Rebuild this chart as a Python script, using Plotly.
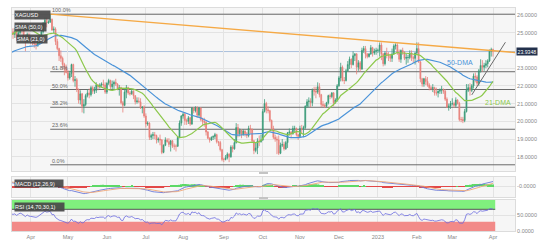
import pandas as pd
import plotly.graph_objects as go

# ---------------- data ----------------
warmup_close = [22.76,23.05,22.70,22.15,22.40, 22.40,22.85,23.20,22.90,22.92,
                23.10,23.50,24.20,24.40,24.35, 23.90,23.95,23.40,22.85,22.35,
                22.45,22.55,22.65,22.35,22.45, 22.70,22.55,23.10,22.90,23.45,
                23.70,23.30,23.65,23.90,23.90, 23.95,23.90,24.50,24.10,23.95,
                24.35,25.30,25.15,25.20,25.80, 25.75,26.20,25.75,25.90,25.75]

close = [
25.00,24.95,25.20,25.05,24.90, 25.05,24.70,25.00,25.30,25.15,
24.80,24.50,24.90,24.60,24.55, 24.45,24.35,24.30,24.45,24.70,
25.05,25.50,25.70,25.55,25.60, 25.75,25.15,25.20,24.50,24.10,
23.70,23.55,23.20,23.05,22.75, 22.45,22.70,23.20,22.30,22.35,
21.80,21.20,21.55,20.85,20.95, 21.45,21.60,21.50,21.90,21.70,
21.75,22.05,21.95,22.05,22.10, 22.05,21.65,22.15,22.30,21.95,
22.10,22.20,22.10,21.85,21.90, 21.05,20.90,21.65,21.90,21.60,
21.55,21.70,21.45,21.10,21.15, 21.10,20.75,20.80,20.30,19.85,
19.90,19.10,19.20,19.25,19.20, 18.95,19.00,18.95,18.25,18.65,
18.95,18.85,18.70,18.90,18.60, 18.60,18.60,19.10,19.90,20.30,
20.40,20.05,20.00,20.20,19.85, 20.75,20.60,20.75,20.35,20.75,
20.10,20.00,19.95,19.40,19.05, 18.95,19.10,19.15,19.25,18.85,
18.80,18.40,17.85,17.85,17.95, 18.15,18.00,18.55,18.45,18.80,
19.65,19.30,19.50,19.25,19.45, 19.30,19.20,19.60,19.55,18.90,
18.35,18.50,18.90,18.85,18.95, 20.55,21.00,20.65,20.60,20.05,
19.60,19.10,19.00,18.95,18.20, 18.65,18.70,18.45,18.80,19.35,
19.40,19.30,19.60,19.60,19.25, 19.15,19.60,19.55,19.65,20.85,
21.10,21.15,21.05,21.75,21.70, 21.65,21.95,21.50,20.95,20.90,
20.85,21.05,21.45,21.40,21.60, 21.05,21.20,22.00,22.45,23.05,
22.30,22.30,22.85,23.20,23.50, 23.20,23.70,23.80,23.05,23.30,
22.95,24.00,24.10,23.80,23.65, 23.80,24.15,23.85,23.95,24.00,
24.00,24.30,23.80,23.25,23.85, 23.75,23.70,23.55,23.80,24.25,
24.30,23.85,23.50,24.00,23.90, 23.55,23.60,23.60,23.85,23.60,
23.55,23.85,24.10,23.35,22.40, 22.10,22.40,22.25,22.05,21.90,
21.85,21.90,21.60,21.60,21.70, 21.75,21.80,21.70,21.25,20.80,
20.85,21.00,21.00,20.90,21.20, 21.00,20.10,20.10,20.05,20.55,
21.75,21.90,21.75,22.00,22.55, 22.50,22.15,22.85,23.15,23.05,
23.15,23.25,23.40,23.95,24.05, 23.9348]

high = [
25.80,25.35,25.45,25.45,25.25, 25.25,25.10,25.15,25.45,25.40,
25.25,24.90,25.00,25.00,24.80, 24.70,24.65,24.45,24.60,24.85,
25.20,25.60,25.85,25.85,25.70, 26.05,25.80,25.35,25.30,24.65,
24.15,24.00,23.65,23.30,23.20, 22.90,22.85,23.25,23.25,22.55,
22.45,21.85,21.75,21.60,21.25, 21.55,21.80,21.85,22.00,22.00,
21.95,22.20,22.10,22.15,22.20, 22.35,22.20,22.20,22.40,22.35,
22.30,22.30,22.40,22.15,22.05, 21.95,21.15,21.80,22.05,21.95,
21.70,21.85,21.75,21.45,21.35, 21.35,21.30,20.85,20.90,20.45,
20.00,19.95,19.30,19.40,19.40, 19.25,19.10,19.25,19.00,18.70,
19.10,19.05,19.05,18.95,18.95, 18.75,18.70,19.15,20.05,20.35,
20.50,20.50,20.15,20.30,20.25, 20.80,20.80,20.85,20.85,20.80,
20.80,20.20,20.20,20.00,19.45, 19.10,19.15,19.20,19.35,19.30,
18.90,18.90,18.45,17.95,18.10, 18.25,18.20,18.65,18.65,19.00,
19.90,19.85,19.60,19.55,19.55, 19.50,19.40,19.75,19.80,19.60,
18.95,18.80,19.05,19.20,19.25, 20.70,21.25,21.10,20.85,20.65,
20.10,19.75,19.25,19.15,19.20, 18.80,19.00,18.85,18.90,19.40,
19.60,19.45,19.75,19.75,19.65, 19.30,19.75,19.80,19.75,20.90,
21.25,21.35,21.30,21.85,21.95, 21.95,22.20,22.15,21.55,21.15,
21.00,21.10,21.50,21.55,21.65, 21.65,21.30,22.10,22.55,23.30,
23.15,22.50,22.95,23.40,23.65, 23.55,23.95,23.85,23.85,23.45,
23.40,24.15,24.25,24.25,23.85, 23.85,24.30,24.20,24.10,24.15,
24.10,24.45,24.45,23.85,23.95, 24.15,23.90,23.80,24.10,24.35,
24.40,24.40,24.05,24.05,24.15, 23.95,23.80,23.75,24.00,24.00,
23.70,23.90,24.45,24.45,23.40, 22.45,22.45,22.55,22.50,22.15,
22.00,22.10,21.95,21.90,21.75, 21.85,22.00,21.85,21.80,21.35,
21.00,21.15,21.30,21.10,21.35, 21.25,21.10,20.25,20.25,20.70,
22.10,22.10,22.15,22.10,22.70, 22.75,22.60,22.95,23.50,23.45,
23.30,23.45,23.50,24.05,24.15, 24.10]

low = [
24.75,24.65,24.70,24.90,24.65, 24.70,24.55,24.60,24.90,24.95,
24.60,23.95,24.45,24.50,24.35, 24.30,24.15,24.05,24.20,24.35,
24.70,24.95,25.40,25.30,25.50, 25.55,25.10,24.95,24.30,24.00,
23.40,23.35,22.90,22.60,22.70, 22.30,22.35,22.50,22.20,21.95,
21.65,21.00,20.95,20.50,20.45, 20.85,21.35,21.30,21.40,21.55,
21.55,21.60,21.75,21.85,21.90, 21.90,21.55,21.55,22.05,21.80,
21.80,21.80,22.00,21.75,21.45, 20.95,20.50,20.85,21.30,21.50,
21.45,21.50,21.25,20.95,21.00, 21.05,20.70,20.45,20.20,19.65,
19.75,18.95,18.95,19.00,19.00, 18.75,18.80,18.65,18.15,18.20,
18.60,18.80,18.55,18.30,18.50, 18.40,18.30,18.55,19.05,19.75,
20.15,19.80,19.80,19.85,19.75, 19.80,20.45,20.50,20.20,20.25,
20.00,19.80,19.70,19.20,19.00, 18.80,18.90,18.95,19.00,18.75,
18.60,18.30,17.75,17.70,17.80, 17.85,17.70,17.95,18.25,18.40,
18.75,19.10,19.15,19.05,19.20, 19.15,19.05,19.10,19.30,18.80,
18.15,18.25,18.15,18.60,18.80, 18.90,20.50,20.45,20.45,19.95,
19.50,19.00,18.85,18.15,18.10, 18.15,18.55,18.35,18.40,18.50,
19.20,19.05,19.25,19.40,19.15, 18.95,19.10,19.30,19.10,19.55,
20.75,20.80,20.80,20.85,21.45, 21.30,21.55,21.35,20.80,20.80,
20.75,20.80,20.95,21.25,21.30, 20.85,21.00,21.10,21.95,22.25,
22.25,22.10,22.25,22.80,22.95, 23.00,23.15,23.40,22.65,22.85,
22.80,22.90,23.85,23.55,23.55, 23.60,23.75,23.65,23.75,23.75,
23.85,23.65,23.45,23.10,23.15, 23.55,23.40,23.35,23.35,23.75,
24.05,23.75,23.35,23.30,23.75, 23.45,23.20,23.30,23.50,23.40,
23.30,23.20,23.75,23.30,22.20, 21.95,21.95,22.05,21.95,21.75,
21.75,21.65,21.45,21.45,21.35, 21.55,21.55,21.55,21.15,20.75,
20.60,20.70,20.90,20.75,20.80, 20.95,20.00,19.95,19.90,19.95,
20.50,21.65,21.45,21.65,21.85, 22.20,22.00,22.00,22.75,22.80,
22.85,23.00,23.05,23.35,23.65, 23.65]

tick_dates = ["2022-04-01","2022-05-02","2022-06-01","2022-07-01","2022-08-01","2022-09-01",
              "2022-10-03","2022-11-01","2022-12-01","2023-01-02","2023-02-01","2023-03-01","2023-04-03"]
tick_text = ["Apr","May","Jun","Jul","Aug","Sep","Oct","Nov","Dec","2023","Feb","Mar","Apr"]
price_ticks = [18, 19, 20, 21, 22, 23, 25, 26]   # 24.0000 sits behind the price tag

fib_high, fib_low = 26.04, 17.55
fib_start = "2022-04-18"
fib_pcts = [100.0, 61.8, 50.0, 38.2, 23.6, 0.0]
res_x = ["2022-04-18", "2023-04-19 10:00"]
res_y = [26.04, 23.88]
sup_x = ["2023-03-16", "2023-04-12"]
sup_y = [21.49, 24.46]
last_price = 23.9348
x_range = ["2022-03-17 10:00", "2023-04-19 10:00"]

# ---------------- geometry helpers ----------------
W, H = 538, 245
ML, MR, MT, MB = 12, 23, 8, 14
PW, PH = W - ML - MR, H - MT - MB
def fx(px): return (px - ML) / PW
def fy(py): return (H - MB - py) / PH

# ---------------- indicators ----------------
warm_idx = pd.bdate_range("2022-01-03", periods=len(warmup_close))
dates = pd.bdate_range("2022-03-14", periods=len(close))
allc = pd.Series(warmup_close + close, index=warm_idx.append(dates))
opens = [warmup_close[-1]] + close[:-1]
sma50 = allc.rolling(50).mean().loc[dates]
sma21 = allc.rolling(21).mean().loc[dates]
macd = allc.ewm(span=12, adjust=False).mean() - allc.ewm(span=26, adjust=False).mean()
sig = macd.ewm(span=9, adjust=False).mean()
hist = (macd - sig).loc[dates]
macd, sig = macd.loc[dates], sig.loc[dates]
d = allc.diff()
g = d.clip(lower=0).ewm(alpha=1/14, adjust=False).mean()
l = (-d.clip(upper=0)).ewm(alpha=1/14, adjust=False).mean()
rsi = (100 - 100 / (1 + g / l)).loc[dates]

UP, DN = "#3a9a78", "#e8807a"
BLUE, GREEN, ORANGE = "#4a93d9", "#8cc84b", "#f5a945"
FONT = "Liberation Sans"

fig = go.Figure()
fig.add_trace(go.Candlestick(x=dates, open=opens, high=high, low=low, close=close,
    increasing=dict(line=dict(color=UP, width=0.8), fillcolor=UP),
    decreasing=dict(line=dict(color=DN, width=0.8), fillcolor=DN),
    whiskerwidth=0, showlegend=False, hoverinfo="skip", xaxis="x", yaxis="y"))
fig.add_trace(go.Scatter(x=dates, y=sma50, mode="lines", line=dict(color=BLUE, width=1.2),
                         xaxis="x", yaxis="y", showlegend=False, hoverinfo="skip"))
fig.add_trace(go.Scatter(x=dates, y=sma21, mode="lines", line=dict(color=GREEN, width=1.2),
                         xaxis="x", yaxis="y", showlegend=False, hoverinfo="skip"))
fig.add_trace(go.Scatter(x=res_x, y=res_y, mode="lines", line=dict(color=ORANGE, width=1.3),
                         xaxis="x", yaxis="y", showlegend=False, hoverinfo="skip"))
fig.add_trace(go.Scatter(x=sup_x, y=sup_y, mode="lines", line=dict(color="#6a6a6a", width=1),
                         xaxis="x", yaxis="y", showlegend=False, hoverinfo="skip"))

# MACD
fig.add_trace(go.Bar(x=dates, y=hist, marker_color=["#5cd966" if v >= 0 else "#e24848" for v in hist],
                     marker_line_width=0, xaxis="x2", yaxis="y2", showlegend=False, hoverinfo="skip"))
fig.add_trace(go.Scatter(x=dates, y=macd, mode="lines", line=dict(color="#6a78d8", width=0.9),
                         xaxis="x2", yaxis="y2", showlegend=False, hoverinfo="skip"))
fig.add_trace(go.Scatter(x=dates, y=sig, mode="lines", line=dict(color="#f0a878", width=0.9),
                         xaxis="x2", yaxis="y2", showlegend=False, hoverinfo="skip"))
# RSI
fig.add_trace(go.Scatter(x=dates, y=rsi, mode="lines", line=dict(color="#6a6ae0", width=0.8),
                         xaxis="x3", yaxis="y3", showlegend=False, hoverinfo="skip"))

shapes = []
band_end = "2023-04-04 06:00"
shapes.append(dict(type="rect", xref="x3", yref="y3", x0=x_range[0], x1=band_end, y0=70, y1=100,
                   fillcolor="#80f07e", line_width=0, layer="between"))
shapes.append(dict(type="rect", xref="x3", yref="y3", x0=x_range[0], x1=band_end, y0=0, y1=30,
                   fillcolor="#f28a88", line_width=0, layer="between"))
shapes.append(dict(type="line", xref="x3", yref="y3", x0=x_range[0], x1=band_end, y0=70, y1=70,
                   line=dict(color="#555555", width=1), layer="between"))
for p in fib_pcts:
    lv = fib_low + p / 100 * (fib_high - fib_low)
    shapes.append(dict(type="line", xref="x", yref="y", x0=fib_start, x1=x_range[1], y0=lv, y1=lv,
                       line=dict(color="#6b6b6b", width=1), layer="between"))
shapes.append(dict(type="line", xref="paper", yref="y", x0=0, x1=1, y0=last_price, y1=last_price,
                   line=dict(color="#a9bfdc", width=1), layer="between"))
for sy in (173, 198):
    shapes.append(dict(type="rect", xref="paper", yref="paper", x0=fx(259), x1=fx(268),
                       y0=fy(sy + 1), y1=fy(sy - 1), fillcolor="#c4c4c4", line_width=0))

ann = []
for p in fib_pcts:
    lv = fib_low + p / 100 * (fib_high - fib_low)
    ann.append(dict(x=fib_start, y=lv, xref="x", yref="y", text=f"{p:.1f}%", showarrow=False,
                    xanchor="left", yanchor="bottom", xshift=0, yshift=-1,
                    font=dict(size=5.5, color="#666666", family=FONT)))
def box(text, x, y, w, h):
    ann.append(dict(x=fx(x), y=fy(y), xref="paper", yref="paper", text=text, showarrow=False,
                    xanchor="left", yanchor="top", align="left", width=w, height=h,
                    bgcolor="rgba(72,72,72,0.92)", borderpad=0,
                    font=dict(size=5.5, color="white", family=FONT)))
box("XAGUSD", 14, 10, 35, 8)
box("SMA (50,0)", 14, 22, 31, 8)
box("SMA (21,0)", 16, 34, 30, 8)
box("MACD (12,26,9)", 14, 179, 48, 7)
box("RSI (14,70,30,1)", 14, 202, 49, 8)
ann.append(dict(x=fx(445), y=fy(62), xref="paper", yref="paper", text="50-DMA", showarrow=False,
                xanchor="left", yanchor="middle", font=dict(size=7, color=BLUE, family=FONT)))
ann.append(dict(x=fx(483), y=fy(102), xref="paper", yref="paper", text="21-DMA", showarrow=False,
                xanchor="left", yanchor="middle", font=dict(size=7, color=GREEN, family=FONT)))
ann.append(dict(x=fx(537.5), y=last_price, xref="paper", yref="y", text="23.9348", showarrow=False,
                xanchor="right", yanchor="middle", bgcolor="#22304c", borderpad=0.5,
                font=dict(size=5.2, color="white", family=FONT)))

grid = "#e3e3e3"
xcommon = dict(type="date", range=x_range, rangebreaks=[dict(bounds=["sat", "mon"])],
               tickmode="array", tickvals=tick_dates, ticktext=tick_text,
               showgrid=True, gridcolor=grid, gridwidth=1, zeroline=False,
               showline=True, linecolor="#dcdcdc", mirror=True, ticks="", automargin=False,
               tickfont=dict(size=5.5, color="#888888", family=FONT))
ycommon = dict(side="right", showgrid=True, gridcolor=grid, zeroline=False, ticks="",
               showline=True, linecolor="#dcdcdc", mirror=True, automargin=False,
               tickfont=dict(size=5.5, color="#888888", family=FONT))

fig.update_layout(
    width=W, height=H, margin=dict(l=ML, r=MR, t=MT, b=MB, autoexpand=False),
    paper_bgcolor="white", plot_bgcolor="#f6f6f6", showlegend=False, bargap=0.3,
    xaxis=dict(**xcommon, domain=[0, 1], anchor="y", showticklabels=False, rangeslider=dict(visible=False)),
    xaxis2=dict(**xcommon, domain=[0, 1], anchor="y2", matches="x", showticklabels=False),
    xaxis3=dict(**xcommon, domain=[0, 1], anchor="y3", matches="x", showticklabels=True),
    yaxis=dict(**ycommon, domain=[fy(171), 1], range=[17.2, 26.39],
               tickvals=price_ticks, tickformat=".4f"),
    yaxis2=dict(**ycommon, domain=[fy(197), fy(177)], range=[-1.35, 1.15],
                tickvals=[0], ticktext=["-0.0000"]),
    yaxis3=dict(**ycommon, domain=[0, fy(200)], range=[0, 100],
                tickvals=[0, 50], tickformat=".4f"),
    shapes=shapes, annotations=ann,
)

fig.write_html("out.html")
